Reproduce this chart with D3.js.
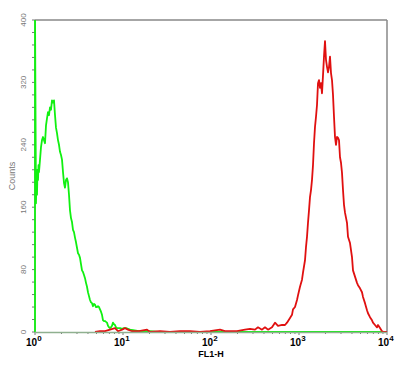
<!DOCTYPE html>
<html><head><meta charset="utf-8">
<script src="https://cdn.jsdelivr.net/npm/d3@7"></script>
<style>body{margin:0;background:#fff}svg{display:block}</style>
</head><body>
<script>
// ---- data ----
const xTickValues = [1, 10, 100, 1000, 10000];
const xTickExponents = ["0", "1", "2", "3", "4"];
const yTickValues = [0, 80, 160, 240, 320, 400];
const xLabel = "FL1-H";
const yLabel = "Counts";

const greenX = [1,1,1.026,1.040,1.054,1.068,1.082,1.096,1.110,1.140,1.170,1.201,1.233,1.266,1.299,1.334,1.369,1.405,1.442,1.481,1.520,1.560,1.602,1.644,1.688,1.732,1.778,1.825,1.874,1.924,1.975,2.027,2.081,2.136,2.192,2.250,2.310,2.371,2.434,2.499,2.565,2.633,2.703,2.774,2.848,2.924,3.001,3.081,3.162,3.246,3.332,3.421,3.511,3.604,3.700,3.798,3.899,4.002,4.108,4.217,4.329,4.444,4.561,4.682,4.806,4.934,5.065,5.199,5.337,5.478,5.623,5.773,5.926,6.083,6.244,6.409,6.579,6.754,6.933,7.117,7.305,7.499,7.698,7.902,8.111,8.326,8.547,8.774,9.245,9.742,10.265,10.817,11.398,12.010,15.199,20.268,25,10000];
const greenY = [0,413,165,201,176,208,195,214,205,221,237,246,250,246,242,265,274,282,278,288,285,297,294,297,278,262,255,246,240,231,227,221,205,191,185,195,197,192,176,156,146,141,131,128,121,115,108,101,99,95,87,79,77,73,69,63,58,51,46,41,38,37,33,36,35,32,32,33,32,29,26,22,15,14,14,13,12,8,6,5,6,8,12,10,9,6,5,5,5,4,5,5,4,3,1,1,0,0];

const redX = [4.806,5.478,6.244,7.117,8.111,8.774,9.742,10.54,11.40,12.66,15.20,18.74,20.27,26.33,34.21,44.44,57.73,74.99,97.42,126.6,144.2,197.5,243.4,277.4,316.2,342.1,379.8,410.8,444.4,493.4,533.7,577.3,640.9,693.3,730.5,790.2,832.6,854.7,900.6,949.0,974.2,1026.5,1081.7,1110.3,1170.0,1201.0,1232.9,1265.5,1299.1,1333.5,1368.9,1405.2,1442.4,1480.7,1519.9,1560.2,1601.6,1644.0,1687.6,1732.3,1778.2,1825.4,1873.8,1923.5,1974.5,2026.8,2080.5,2135.7,2192.3,2250.4,2310.1,2371.3,2434.2,2498.7,2565.0,2633.0,2702.8,2774.4,2848.0,2923.5,3001.0,3080.6,3162.3,3246.1,3332.2,3511.2,3604.3,3798.0,4002.0,4108.1,4328.8,4561.4,4682.3,4933.9,5198.9,5336.7,5623.4,5925.6,6082.7,6409.4,6753.8,6932.8,7305.3,7697.7,7901.8,8326.3,8773.7,9245.3,10000];
const redY = [0,1,1,3,5,1,3,5,3,1,1,3,0,1,0,1,1,0,1,3,1,1,3,4,3,6,3,6,3,6,12,8,9,9,12,18,22,29,32,41,47,58,67,76,92,109,122,140,156,173,182,195,214,242,263,276,291,319,323,313,319,306,329,353,373,349,340,333,340,353,332,323,304,276,250,240,250,249,246,224,217,204,182,163,153,140,122,114,96,79,71,63,60,56,51,45,37,28,24,19,15,12,9,6,9,5,1,0,0];

// ---- chart ----
const W = 407, H = 367;
const L = 35, R = 387, T = 20, B = 332;
const svg = d3.select("body").append("svg").attr("width", W).attr("height", H);
const x = d3.scaleLog().domain([1, 10000]).range([L, R]);
const y = d3.scaleLinear().domain([0, 400]).range([B, T]);
const font = "Liberation Sans, Arial, sans-serif";

svg.append("clipPath").attr("id", "clip").append("rect")
  .attr("x", L - 2).attr("y", T).attr("width", R - L + 2).attr("height", B - T + 1);

// frame
svg.append("line").attr("x1", L).attr("x2", R).attr("y1", T).attr("y2", T).attr("stroke", "#888").attr("stroke-width", 1.5);
svg.append("line").attr("x1", R).attr("x2", R).attr("y1", T).attr("y2", B).attr("stroke", "#888").attr("stroke-width", 1.5);
svg.append("line").attr("x1", L).attr("x2", L).attr("y1", T).attr("y2", B).attr("stroke", "#777").attr("stroke-width", 1);

// y ticks
const yMinor = d3.range(0, 401, 16);
svg.append("g").selectAll("line").data(yMinor).join("line")
  .attr("x1", L - 3).attr("x2", L).attr("y1", d => y(d)).attr("y2", d => y(d))
  .attr("stroke", "#777").attr("stroke-width", 1);
svg.append("g").selectAll("text").data(yTickValues).join("text")
  .attr("transform", d => `translate(26,${y(d)}) rotate(-90)`)
  .attr("text-anchor", "middle")
  .attr("font-family", font).attr("font-size", 8).attr("fill", "#777")
  .text(d => d);
svg.append("text").attr("transform", `translate(15,${(T + B) / 2}) rotate(-90)`)
  .attr("text-anchor", "middle").attr("font-family", font).attr("font-size", 9).attr("fill", "#777")
  .text(yLabel);

// x ticks
const xMinor = [];
for (let e = 0; e < 4; e++) for (let m = 1; m < 10; m++) xMinor.push(m * Math.pow(10, e));
xMinor.push(10000);
svg.append("g").selectAll("line").data(xMinor).join("line")
  .attr("x1", d => x(d)).attr("x2", d => x(d)).attr("y1", B).attr("y2", d => xTickValues.includes(d) ? B + 3 : B + 2)
  .attr("stroke", "#777").attr("stroke-width", 1);

const lbl = svg.append("g").selectAll("text").data(xTickValues).join("text")
  .attr("x", d => x(d) - 9).attr("y", 346)
  .attr("font-family", font).attr("font-weight", "bold").attr("font-size", 10).attr("fill", "#000");
lbl.append("tspan").text("10");
lbl.append("tspan").attr("dy", -5).attr("font-size", 8).text((d, i) => xTickExponents[i]);

svg.append("text").attr("x", x(100)).attr("y", 357).attr("text-anchor", "middle")
  .attr("font-family", font).attr("font-weight", "bold").attr("font-size", 9).attr("fill", "#000")
  .text(xLabel);

// curves
const line = d3.line().x(d => x(d[0])).y(d => y(d[1]));
const g = svg.append("g").attr("clip-path", "url(#clip)");
g.append("path").datum(d3.zip(greenX, greenY)).attr("d", line)
  .attr("fill", "none").attr("stroke", "#11f011").attr("stroke-width", 1.8).attr("stroke-linejoin", "round");
g.append("path").datum(d3.zip(redX, redY)).attr("d", line)
  .attr("fill", "none").attr("stroke", "#e01010").attr("stroke-width", 1.8).attr("stroke-linejoin", "round");

// bottom axis line
svg.append("line").attr("x1", L).attr("x2", R).attr("y1", B + 0.5).attr("y2", B + 0.5)
  .attr("stroke", "#8fb08f").attr("stroke-width", 1.5);
</script>
</body></html>
